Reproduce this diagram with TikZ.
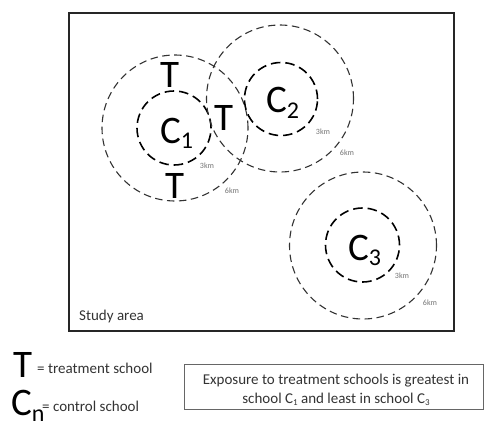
\documentclass[tikz,border=0pt]{standalone}
\usepackage{fontspec}
\setmainfont{Carlito}
\newcommand\lowsub[3]{\raisebox{-#1}{\fontsize{#2}{#2}\selectfont #3}}
\begin{document}
\begin{tikzpicture}[x=1pt,y=-1pt,
  outerring/.style={circle,draw=black!80,line width=1.1pt,dash pattern=on 7.5pt off 4.5pt,inner sep=0pt},
  innerring/.style={circle,draw=black,line width=1.6pt,dash pattern=on 9.5pt off 5pt,inner sep=0pt},
  bigletter/.style={font=\fontsize{39}{39}\selectfont,inner sep=0pt,anchor=base},
  biglabel/.style={font=\fontsize{39}{39}\selectfont,inner sep=0pt,anchor=base west},
  kmlabel/.style={font=\fontsize{8}{8}\selectfont,text=black!55,inner sep=0pt},
  plain/.style={font=\fontsize{15}{18}\selectfont,text=black!80,inner sep=0pt},
  areabox/.style={draw=black!85,line width=2pt},
  notebox/.style={draw=black!60,line width=0.8pt}]
\useasboundingbox (0,0) rectangle (485,423);
% study area
\draw[areabox] (69,13) rectangle (454,331);
\node[plain,anchor=base west] (study) at (79,320) {Study area};
% rings
\node[outerring,minimum size=146pt] (c1outer) at (175,128) {};
\node[innerring,minimum size=74pt] (c1inner) at (174,128) {};
\node[outerring,minimum size=147pt] (c2outer) at (280,98.5) {};
\node[innerring,minimum size=73pt] (c2inner) at (281,99) {};
\node[outerring,minimum size=147pt] (c3outer) at (363,245.5) {};
\node[innerring,minimum size=74pt] (c3inner) at (362.5,245) {};
% control schools
\node[biglabel] (c1) at (160,143) {C\lowsub{5pt}{24}{1}};
\node[biglabel] (c2) at (266,112) {C\lowsub{6pt}{24}{2}};
\node[biglabel] (c3) at (348,260) {C\lowsub{5pt}{24}{3}};
% treatment schools
\node[bigletter] (t1) at (170,87) {T};
\node[bigletter] (t2) at (224,130) {T};
\node[bigletter] (t3) at (175,198) {T};
% distances
\node[kmlabel] (k1a) at (207,166) {3km};
\node[kmlabel] (k1b) at (232,191) {6km};
\node[kmlabel] (k2a) at (323,132) {3km};
\node[kmlabel] (k2b) at (347,153) {6km};
\node[kmlabel] (k3a) at (402,276) {3km};
\node[kmlabel] (k3b) at (430,303) {6km};
% legend
\node[bigletter] (legT) at (23,377) {T};
\node[plain,anchor=base west] (legTtext) at (37,373) {= treatment school};
\node[biglabel] (legC) at (11,415) {C\lowsub{6pt}{24}{n}};
\node[plain,anchor=base west] (legCtext) at (42,411) {= control school};
% note
\draw[notebox] (184,364) rectangle (483,409);
\node[plain,anchor=base] (note1) at (336,384) {Exposure to treatment schools is greatest in};
\node[plain,anchor=base] (note2) at (336,403) {school C\lowsub{2pt}{9}{1} and least in school C\lowsub{2pt}{9}{3}};
\end{tikzpicture}
\end{document}
